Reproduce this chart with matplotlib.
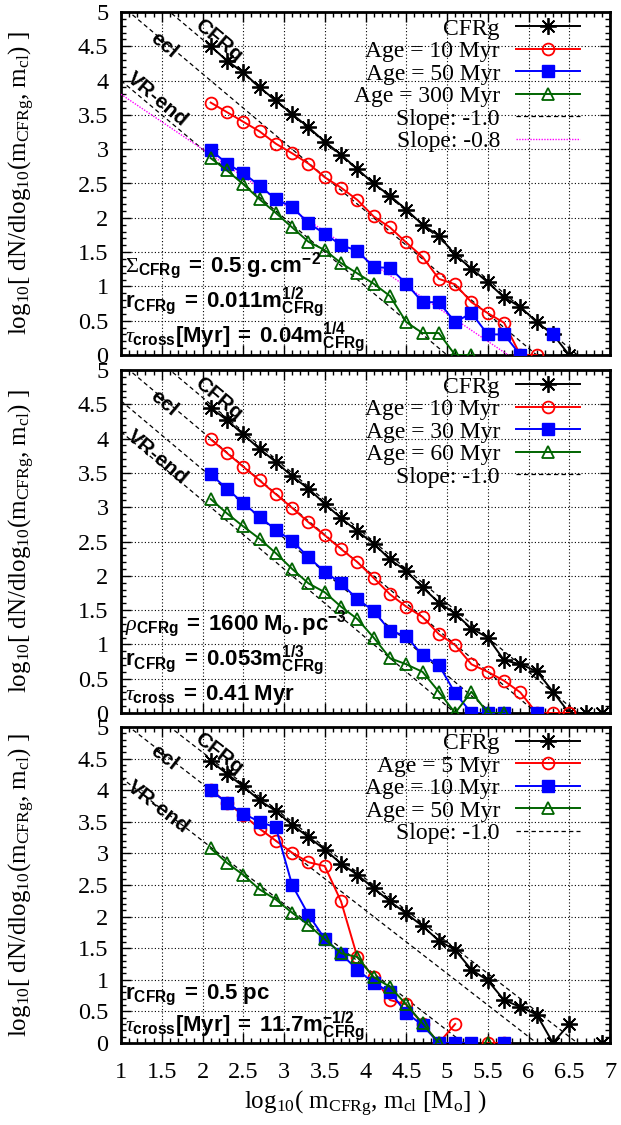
import numpy as np
import matplotlib
matplotlib.use("Agg")
import matplotlib.pyplot as plt
from matplotlib.ticker import MultipleLocator, FuncFormatter

plt.rcParams["font.family"] = "Liberation Serif"
plt.rcParams["mathtext.fontset"] = "custom"
plt.rcParams["mathtext.rm"] = "Liberation Serif"
plt.rcParams["mathtext.it"] = "Liberation Serif:italic"
plt.rcParams["mathtext.bf"] = "Liberation Sans:bold"

nan = np.nan

# log10 cluster mass bin centres
LOG_M = [2.1, 2.3, 2.5, 2.7, 2.9, 3.1, 3.3, 3.5, 3.7, 3.9, 4.1, 4.3, 4.5,
         4.7, 4.9, 5.1, 5.3, 5.5, 5.7, 5.9, 6.1, 6.3, 6.5, 6.7, 6.9]

# panel 1: surface-density limited CFRg
P1_CFRG = [4.50, 4.29, 4.12, 3.90, 3.71, 3.51, 3.32, 3.11, 2.92, 2.71, 2.50, 2.32, 2.12,
           1.90, 1.74, 1.46, 1.26, 1.06, 0.84, 0.70, 0.48, 0.30, 0.00, nan, nan]
P1_AGE10 = [3.68, 3.54, 3.40, 3.26, 3.08, 2.94, 2.79, 2.59, 2.44, 2.26, 2.02, 1.86, 1.64,
            1.43, 1.11, 1.03, 0.77, 0.61, 0.47, 0.00, 0.00, nan, nan, nan, nan]
P1_AGE50 = [2.99, 2.79, 2.65, 2.47, 2.27, 2.16, 1.92, 1.77, 1.60, 1.52, 1.28, 1.27, 1.04,
            0.77, 0.77, 0.48, 0.61, 0.30, 0.30, 0.00, nan, 0.30, nan, nan, nan]
P1_AGE300 = [2.87, 2.69, 2.49, 2.27, 2.07, 1.86, 1.65, 1.53, 1.34, 1.19, 1.04, 0.86, 0.48,
             0.32, 0.32, 0.00, 0.00, nan, nan, nan, nan, nan, nan, nan, nan]

# panel 2: volume-density limited CFRg
P2_CFRG = [4.45, 4.27, 4.06, 3.85, 3.66, 3.45, 3.27, 3.05, 2.84, 2.65, 2.47, 2.24, 2.07,
           1.83, 1.61, 1.45, 1.23, 1.10, 0.77, 0.71, 0.61, 0.31, 0.00, 0.00, 0.00]
P2_AGE10 = [3.99, 3.79, 3.59, 3.39, 3.19, 2.99, 2.78, 2.59, 2.39, 2.20, 1.97, 1.73, 1.55,
            1.40, 1.15, 0.99, 0.71, 0.60, 0.47, 0.30, 0.00, 0.00, 0.00, nan, nan]
P2_AGE30 = [3.48, 3.27, 3.06, 2.86, 2.67, 2.51, 2.27, 2.06, 1.89, 1.66, 1.49, 1.20, 1.12,
            0.84, 0.70, 0.29, 0.00, 0.00, 0.00, nan, 0.00, nan, nan, nan, nan]
P2_AGE60 = [3.12, 2.91, 2.72, 2.54, 2.33, 2.10, 1.89, 1.76, 1.55, 1.37, 1.10, 0.80, 0.71,
            0.60, 0.31, 0.00, 0.31, 0.00, 0.00, nan, nan, nan, nan, nan, nan]

# panel 3: constant-radius CFRg
P3_CFRG = [4.46, 4.26, 4.06, 3.84, 3.67, 3.45, 3.26, 3.06, 2.84, 2.66, 2.45, 2.24, 2.05,
           1.85, 1.62, 1.47, 1.16, 0.99, 0.68, 0.57, 0.45, 0.00, 0.30, nan, 0.00]
P3_AGE5 = [4.01, 3.80, 3.61, 3.39, 3.20, 3.01, 2.86, 2.80, 2.24, 1.36, 1.04, 0.68, 0.61,
           0.30, 0.00, 0.30, nan, 0.00, 0.00, nan, nan, nan, nan, nan, nan]
P3_AGE10 = [4.00, 3.80, 3.63, 3.50, 3.41, 2.50, 2.03, 1.65, 1.41, 1.16, 0.95, 0.81, 0.48,
            0.28, 0.00, 0.00, 0.00, nan, 0.00, nan, nan, nan, nan, nan, nan]
P3_AGE50 = [3.08, 2.85, 2.66, 2.43, 2.27, 2.06, 1.87, 1.64, 1.42, 1.36, 1.04, 0.89, 0.61,
            0.31, 0.00, nan, nan, 0.00, nan, nan, nan, nan, nan, nan, nan]

AGE_LABELS = [
    ["Age = 10 Myr", "Age = 50 Myr", "Age = 300 Myr"],
    ["Age = 10 Myr", "Age = 30 Myr", "Age = 60 Myr"],
    ["Age = 5 Myr", "Age = 10 Myr", "Age = 50 Myr"],
]

# intercepts of the slope -1 reference lines
SLOPE1_INTERCEPTS = [
    [6.6, 6.1, 5.0],
    [6.6, 6.1, 5.55, 5.1],
    [6.6, 6.1, 5.2],
]
# slope -0.8 reference line of panel 1: value at log m = 1
SLOPE08_AT1 = 3.8

PANEL_NOTES = [
    [r"$\Sigma_{\mathbf{CFRg}}$$\mathbf{\ =\ 0.5\ g.cm^{-2}}$",
     r"$\mathbf{r_{CFRg}\ =\ 0.011m_{CFRg}^{1/2}}$",
     r"$\tau_{\mathbf{cross}}$$\mathbf{[Myr]\ =\ 0.04m_{CFRg}^{1/4}}$"],
    [r"$\rho_{\mathbf{CFRg}}$$\mathbf{\ =\ 1600\ M_o.pc^{-3}}$",
     r"$\mathbf{r_{CFRg}\ =\ 0.053m_{CFRg}^{1/3}}$",
     r"$\tau_{\mathbf{cross}}$$\mathbf{\ =\ 0.41\ Myr}$"],
    [r"$\mathbf{r_{CFRg}\ =\ 0.5\ pc}$",
     r"$\tau_{\mathbf{cross}}$$\mathbf{[Myr]\ =\ 11.7m_{CFRg}^{-1/2}}$"],
]

YLABEL = r"log$_{10}$[ dN/dlog$_{10}$(m$_{\rm CFRg}$, m$_{\rm cl}$) ]"
XLABEL = r"log$_{10}$( m$_{\rm CFRg}$, m$_{\rm cl}$ [M$_{\rm o}$] )"

fig = plt.figure(figsize=(6.21, 11.25), dpi=100)
W, H = 621.0, 1125.0
# axes boxes in pixels: left, top, right, bottom
boxes = [(121, 12, 610, 355), (121, 370, 610, 713), (121, 727, 610, 1043)]

panel_data = [
    (P1_CFRG, P1_AGE10, P1_AGE50, P1_AGE300),
    (P2_CFRG, P2_AGE10, P2_AGE30, P2_AGE60),
    (P3_CFRG, P3_AGE5, P3_AGE10, P3_AGE50),
]

green = "#006400"
tick_fmt = FuncFormatter(lambda v, p: f"{v:g}")

for i, (box, series) in enumerate(zip(boxes, panel_data)):
    l, t, r, b = box
    ax = fig.add_axes([l / W, 1 - b / H, (r - l) / W, (b - t) / H])
    ax.set_xlim(1, 7)
    ax.set_ylim(0, 5)

    cfrg, a1, a2, a3 = series
    ax.plot(LOG_M, cfrg, color="black", lw=1.4, marker=(8, 2, 0), ms=12,
            mew=1.3, label="CFRg", zorder=5)
    ax.plot(LOG_M, a1, color="red", lw=1.4, marker="o", ms=8.5, mfc="none",
            mew=1.3, label=AGE_LABELS[i][0], zorder=6)
    ax.plot(LOG_M, a2, color="blue", lw=1.4, marker="s", ms=8,
            label=AGE_LABELS[i][1], zorder=7)
    ax.plot(LOG_M, a3, color=green, lw=1.4, marker="^", ms=8.5, mfc="none",
            mew=1.3, label=AGE_LABELS[i][2], zorder=8)

    xs = np.array([1.0, 7.0])
    for k, c in enumerate(SLOPE1_INTERCEPTS[i]):
        ax.plot(xs, c - xs, color="black", lw=0.9, dashes=(3.5, 2.5),
                label="Slope: -1.0" if k == 0 else None, zorder=4)
    if i == 0:
        ax.plot(xs, SLOPE08_AT1 - 0.8 * (xs - 1), color="magenta", lw=1.0,
                dashes=(1, 1), label="Slope: -0.8", zorder=4)

    # line labels along the slope -1 guides
    p0 = ax.transData.transform((1, 5))
    p1 = ax.transData.transform((2, 4))
    ang = np.degrees(np.arctan2(p1[1] - p0[1], p1[0] - p0[0]))
    for txt, (x, y) in zip(["CFRg", "ecl", "VR-end"],
                           [(2.2, 4.58), (1.53, 4.52), (1.45, 3.73)]):
        ax.text(x, y, txt, rotation=ang, rotation_mode="anchor", ha="center",
                va="center", family="Liberation Sans", weight="bold",
                fontsize=15, zorder=9)

    notes = PANEL_NOTES[i]
    note_y = [1.2, 0.69, 0.19] if len(notes) == 3 else [0.69, 0.19]
    for txt, y in zip(notes, note_y):
        ax.text(1.05, y, txt, ha="left", va="baseline", fontsize=16,
                family="Liberation Sans", weight="bold", zorder=9)

    ax.xaxis.set_major_locator(MultipleLocator(0.5))
    ax.xaxis.set_minor_locator(MultipleLocator(0.1))
    ax.yaxis.set_major_locator(MultipleLocator(0.5))
    ax.yaxis.set_minor_locator(MultipleLocator(0.1))
    ax.tick_params(which="both", direction="in", top=True, right=True,
                   labelsize=17.5, width=1.0)
    ax.tick_params(axis="y", pad=9)
    ax.tick_params(axis="x", pad=14)
    ax.tick_params(which="major", length=7)
    ax.tick_params(which="minor", length=3.5)
    ax.yaxis.set_major_formatter(tick_fmt)
    ax.xaxis.set_major_formatter(tick_fmt)
    if i < 2:
        ax.tick_params(labelbottom=False)
    ax.grid(True, which="major", color="black", lw=0.8, ls=(0, (1, 2)))
    for sp in ax.spines.values():
        sp.set_linewidth(2.0)

    ax.set_ylabel(YLABEL, fontsize=18)
    ax.yaxis.set_label_coords(-0.172, 0.5)

    ax.legend(loc="upper right", bbox_to_anchor=(0.939, 0.982), frameon=False,
              markerfirst=False, fontsize=17, handlelength=2.7,
              handletextpad=0.7, labelspacing=0.04, borderpad=0,
              borderaxespad=0, numpoints=1)

    if i == 2:
        ax.set_xlabel(XLABEL, fontsize=18, labelpad=4)

fig.savefig("out.png", dpi=100)
